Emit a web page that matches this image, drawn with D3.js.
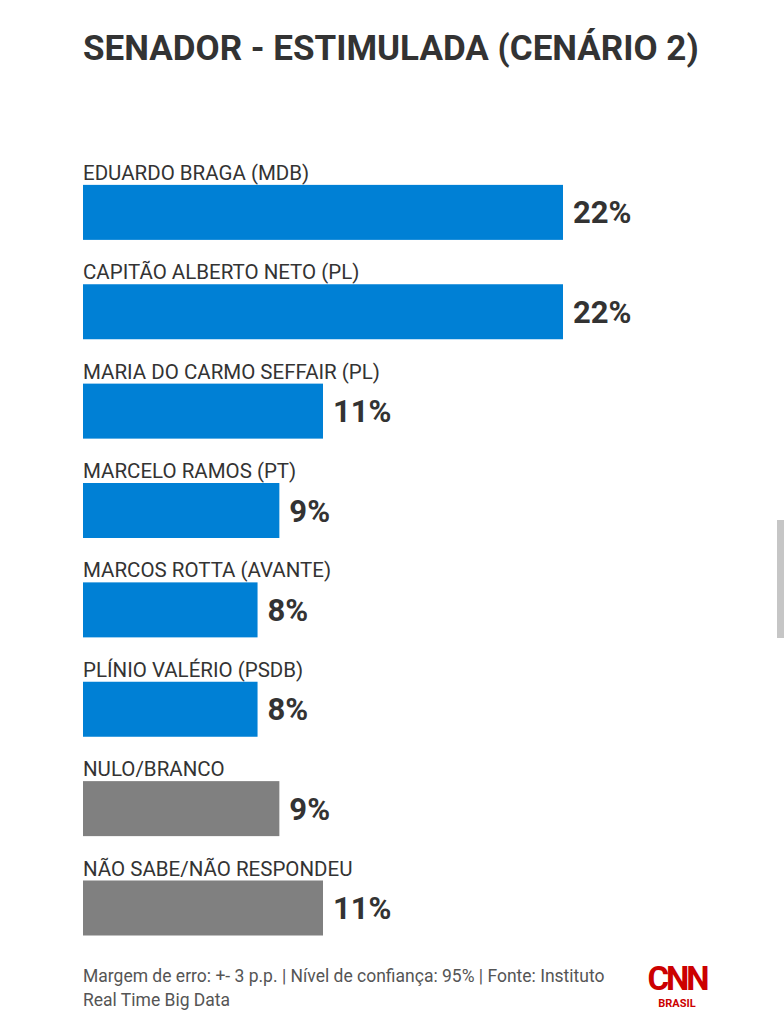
<!DOCTYPE html>
<html>
<head>
<meta charset="utf-8">
<script src="https://cdn.jsdelivr.net/npm/d3@7"></script>
<style>
  html, body { margin: 0; padding: 0; background: #fff; }
  svg { display: block; }
</style>
</head>
<body>
<div id="chart"></div>
<script>
(function () {
  'use strict';

  var title = 'SENADOR - ESTIMULADA (CENÁRIO 2)';
  var names = [
    'EDUARDO BRAGA (MDB)',
    'CAPITÃO ALBERTO NETO (PL)',
    'MARIA DO CARMO SEFFAIR (PL)',
    'MARCELO RAMOS (PT)',
    'MARCOS ROTTA (AVANTE)',
    'PLÍNIO VALÉRIO (PSDB)',
    'NULO/BRANCO',
    'NÃO SABE/NÃO RESPONDEU'
  ];
  var values = [22, 22, 11, 9, 8, 8, 9, 11];
  var kinds = ['cand', 'cand', 'cand', 'cand', 'cand', 'cand', 'other', 'other'];
  var footLines = [
    'Margem de erro: +- 3 p.p. | Nível de confiança: 95% | Fonte: Instituto',
    'Real Time Big Data'
  ];

  var W = 784, H = 1024;
  var FONT = 'Roboto, "Noto Sans", sans-serif';
  var INK = '#333333';

  var svg = d3.select('#chart').append('svg')
    .attr('width', W).attr('height', H);

  // bar geometry
  var x = d3.scaleLinear().domain([0, 22]).range([83, 563]);
  var y = d3.scaleBand().domain(d3.range(names.length))
    .range([140.5, 935.5]).paddingInner(0).paddingOuter(0);
  var color = d3.scaleOrdinal().domain(['cand', 'other']).range(['#0080d5', '#808080']);
  var barH = 55;

  svg.append('text')
    .attr('x', 83).attr('y', 60)
    .attr('font-family', FONT).attr('font-weight', 700)
    .attr('font-size', 35).attr('fill', INK)
    .text(title);

  var row = svg.append('g').selectAll('g')
    .data(names).enter().append('g')
    .attr('transform', function (d, i) { return 'translate(0,' + (y(i) + y.bandwidth() - barH) + ')'; });

  row.append('text')
    .attr('x', 83).attr('y', -5)
    .attr('font-family', FONT).attr('font-size', 20.5)
    .attr('fill', INK)
    .text(function (d) { return d; });

  row.append('rect')
    .attr('x', x(0)).attr('y', 0)
    .attr('width', function (d, i) { return x(values[i]) - x(0); })
    .attr('height', barH)
    .attr('fill', function (d, i) { return color(kinds[i]); });

  row.append('text')
    .attr('x', function (d, i) { return x(values[i]) + 10; })
    .attr('y', barH / 2 + 11)
    .attr('font-family', FONT).attr('font-weight', 700)
    .attr('font-size', 31).attr('fill', INK)
    .text(function (d, i) { return values[i] + '%'; });

  // footer
  svg.append('g').selectAll('text')
    .data(footLines).enter().append('text')
    .attr('x', 83).attr('y', function (d, i) { return 982 + i * 24; })
    .attr('font-family', FONT).attr('font-size', 17.5)
    .attr('fill', '#555')
    .text(function (d) { return d; });

  // logo
  var logo = svg.append('g').attr('transform', 'translate(677,0)');
  logo.append('text')
    .attr('x', 0).attr('y', 990).attr('text-anchor', 'middle')
    .attr('font-family', FONT).attr('font-weight', 700)
    .attr('font-size', 33).attr('fill', '#cc0000')
    .attr('letter-spacing', -3)
    .text('CNN');
  logo.append('text')
    .attr('x', 0).attr('y', 1007).attr('text-anchor', 'middle')
    .attr('font-family', FONT).attr('font-weight', 700)
    .attr('font-size', 11).attr('fill', '#cc0000')
    .text('BRASIL');

  // scrollbar remnant
  svg.append('rect')
    .attr('x', 777).attr('y', 520).attr('width', 7).attr('height', 118)
    .attr('fill', '#c6c6c6');
})();
</script>
</body>
</html>
